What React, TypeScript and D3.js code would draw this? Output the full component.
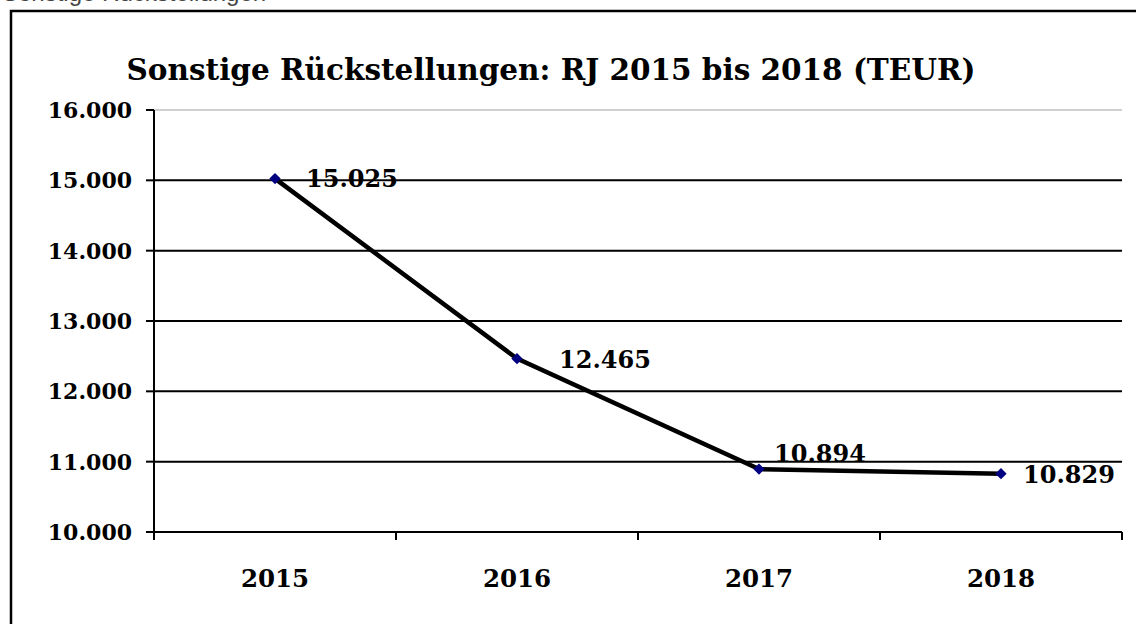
import * as d3 from "d3";

const years = ["2015", "2016", "2017", "2018"];
const values = [15025, 12465, 10894, 10829];
const yTicks = [10000, 11000, 12000, 13000, 14000, 15000, 16000];
// label nudges as placed in the original (dx to left edge, dy to baseline)
const labelDx = [31, 42, 15, 22];
const labelDy = [8, 9, -7, 9];

const title = "Sonstige Rückstellungen: RJ 2015 bis 2018 (TEUR)";

const W = 1136;
const H = 624;
const fmt = (v: number) => d3.format(",")(v).replace(/,/g, ".");

export default function App() {
  const x = d3.scaleBand().domain(years).range([154, 1122]).padding(0);
  const y = d3.scaleLinear().domain([10000, 16000]).range([532, 110]);
  const cx = (d: string) => (x(d) ?? 0) + x.bandwidth() / 2;

  const line = d3
    .line<number>()
    .x((_, i) => cx(years[i]))
    .y((v) => y(v));

  const serif = "'DejaVu Serif', serif";

  return (
    <svg
      width={W}
      height={H}
      style={{ position: "absolute", left: 0, top: 0, background: "#fff" }}
    >
      {/* cut-off line of page text above the chart */}
      <text x={2} y={1} fontFamily="'Liberation Sans', sans-serif" fontSize={24} fill="#444">
        Sonstige Rückstellungen
      </text>

      {/* chart frame */}
      <rect x={11} y={11} width={1140} height={700} fill="none" stroke="#000" strokeWidth={2.5} />

      <text
        x={551}
        y={80}
        textAnchor="middle"
        fontFamily={serif}
        fontWeight="bold"
        fontSize={29.5}
      >
        {title}
      </text>

      {/* gridlines */}
      {yTicks.slice(1).map((t) => (
        <line
          key={t}
          x1={154}
          x2={1122}
          y1={y(t)}
          y2={y(t)}
          stroke={t === 16000 ? "#a0a0a0" : "#000"}
          strokeWidth={t === 16000 ? 1 : 2}
        />
      ))}

      {/* y axis */}
      <line x1={154} x2={154} y1={y(16000)} y2={y(10000) + 8} stroke="#000" strokeWidth={2} />
      {yTicks.map((t) => (
        <g key={t}>
          <line x1={146} x2={154} y1={y(t)} y2={y(t)} stroke="#000" strokeWidth={2} />
          <text
            x={132}
            y={y(t) + 8}
            textAnchor="end"
            fontFamily={serif}
            fontWeight="bold"
            fontSize={22}
          >
            {fmt(t)}
          </text>
        </g>
      ))}

      {/* x axis */}
      <line x1={146} x2={1122} y1={y(10000)} y2={y(10000)} stroke="#000" strokeWidth={2} />
      {years.map((d) => (
        <line
          key={d}
          x1={(x(d) ?? 0) + x.bandwidth()}
          x2={(x(d) ?? 0) + x.bandwidth()}
          y1={y(10000)}
          y2={y(10000) + 8}
          stroke="#000"
          strokeWidth={2}
        />
      ))}
      {years.map((d) => (
        <text
          key={d}
          x={cx(d)}
          y={587}
          textAnchor="middle"
          fontFamily={serif}
          fontWeight="bold"
          fontSize={24.5}
        >
          {d}
        </text>
      ))}

      {/* series */}
      <path d={line(values) ?? ""} fill="none" stroke="#000" strokeWidth={4.5} />
      {values.map((v, i) => (
        <rect
          key={i}
          x={cx(years[i]) - 4}
          y={y(v) - 4}
          width={8}
          height={8}
          fill="#000080"
          transform={`rotate(45 ${cx(years[i])} ${y(v)})`}
        />
      ))}
      {values.map((v, i) => (
        <text
          key={i}
          x={cx(years[i]) + labelDx[i]}
          y={y(v) + labelDy[i]}
          fontFamily={serif}
          fontWeight="bold"
          fontSize={24}
        >
          {fmt(v)}
        </text>
      ))}
    </svg>
  );
}
